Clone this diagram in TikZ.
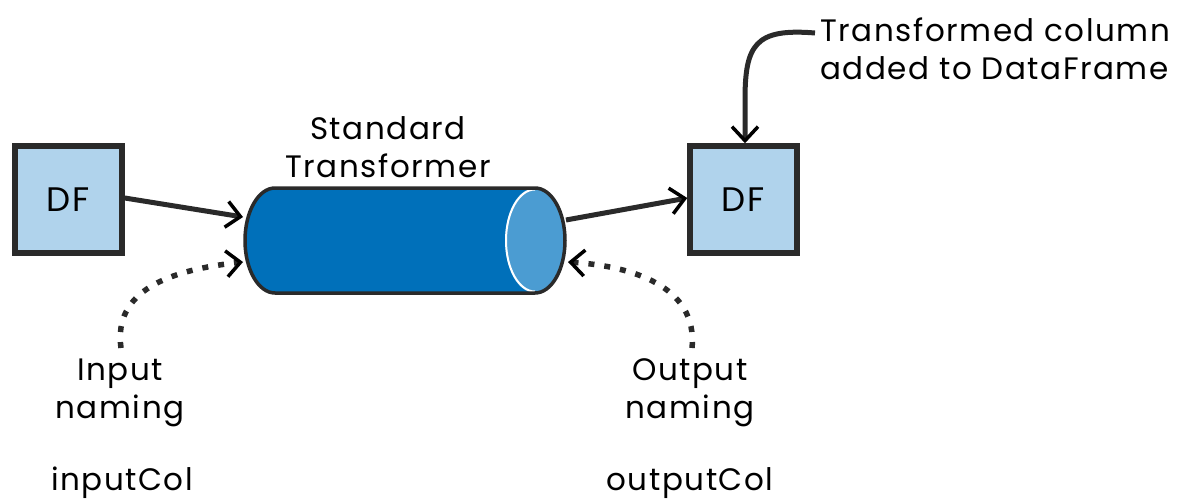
\documentclass[tikz,border=0pt]{standalone}
\usepackage{fontspec}
\setmainfont{Poppins}
\usetikzlibrary{arrows.meta,shadows}
\definecolor{boxfill}{HTML}{B0D3EC}
\definecolor{ink}{HTML}{2A2A2A}
\definecolor{cylbody}{HTML}{0070BA}
\definecolor{cylface}{HTML}{4B9CD2}
\tikzset{
  dfbox/.style={draw=ink, fill=boxfill, line width=5.5pt, minimum width=107pt, minimum height=107pt,
    inner sep=0pt, font=\fontsize{34}{38}\selectfont\addfontfeature{LetterSpace=6},
    drop shadow={shadow xshift=3pt, shadow yshift=-3pt, opacity=0.25, fill=black}},
  lbl/.style={font=\fontsize{31}{38}\selectfont\addfontfeature{LetterSpace=5}, inner sep=0pt, align=center},
  chev/.style={-{Straight Barb[length=14pt,width=26pt,line width=3.5pt,black]}},
  flow/.style={draw=ink, line width=5pt, chev},
  dots/.style={draw=ink, line width=5.5pt, dash pattern=on 6pt off 10pt, chev}
}
\begin{document}
\begin{tikzpicture}[x=1pt,y=-1pt]
\useasboundingbox (0,0) rectangle (1192,503);
% boxes
\node[dfbox] (dfin) at (68.5,199.5) {DF};
\node[dfbox] (dfout) at (743.5,199.5) {DF};
% cylinder
\fill[cylbody] (275,188) -- (535,188) arc[start angle=-90,end angle=90,x radius=30,y radius=52.5] -- (275,293)
  arc[start angle=90,end angle=270,x radius=30,y radius=52.5] -- cycle;
\fill[cylface] (535,240.5) ellipse[x radius=30,y radius=52.5];
\draw[white,line width=2pt] (535,189.5) arc[start angle=-90,end angle=-270,x radius=29,y radius=51];
\draw[ink,line width=3.5pt,line join=round] (275,188) -- (535,188) arc[start angle=-90,end angle=90,x radius=30,y radius=52.5] -- (275,293)
  arc[start angle=90,end angle=270,x radius=30,y radius=52.5] -- cycle;
\node[inner sep=0pt, minimum width=320pt, minimum height=105pt] (cyl) at (405,240.5) {};
\coordinate (cylinA) at (243,217);
\coordinate (cylinB) at (243,262);
\coordinate (cyloutA) at (566,220);
\coordinate (cyloutB) at (568,262);
% labels
\node[lbl] (tname) at (388,147) {Standard\\Transformer};
\node[lbl] (inname) at (120,393) {Input\\naming};
\node[lbl] (outname) at (690,393) {Output\\naming};
\node[lbl] (incol) at (122,483) {inputCol};
\node[lbl] (outcol) at (690,483) {outputCol};
\node[lbl, anchor=west, align=left] (note) at (820,49) {Transformed column\\added to DataFrame};
\coordinate (noteS) at (815,33);
\coordinate (inS) at (121,348);
\coordinate (outS) at (692,348);
% connectors
\draw[flow] (dfin.east |- 0,198) -- (cylinA);
\draw[flow] (cyloutA) -- (dfout.west |- 0,198);
\draw[dots] (inS) .. controls (113,290) and (170,270) .. (cylinB);
\draw[dots] (outS) .. controls (698,285) and (630,266) .. (cyloutB);
\draw[flow] (noteS) .. controls (755,28) and (745,45) .. (745,100) -- (dfout.north -| 745,0);
\end{tikzpicture}
\end{document}
